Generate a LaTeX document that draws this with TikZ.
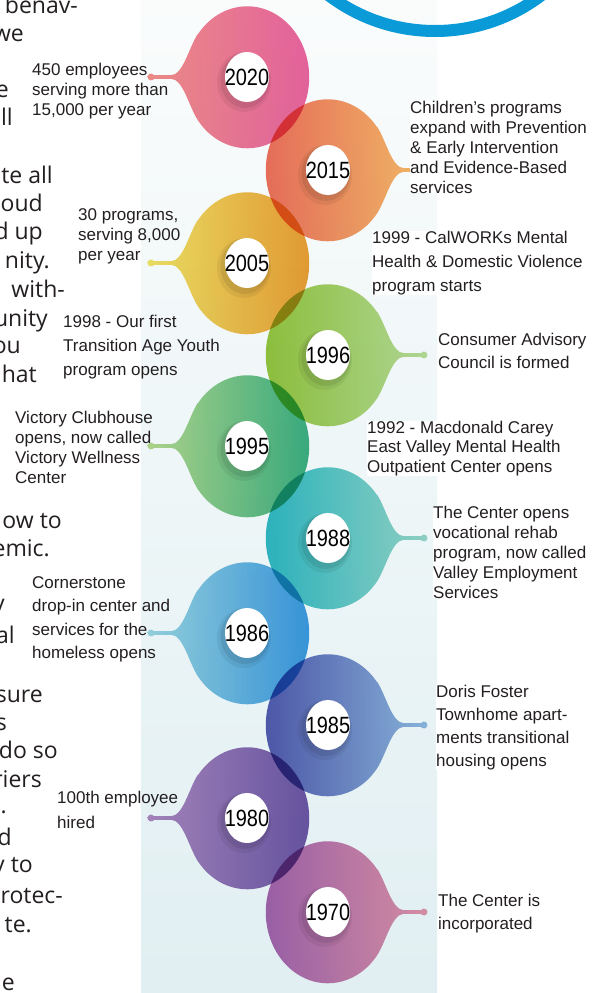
\documentclass[tikz,border=0pt]{standalone}
\usepackage{fontspec}
\setmainfont{Liberation Sans}
\newfontfamily\yearfont{Liberation Sans}[FakeStretch=0.85]
\newfontfamily\bodyfont{Open Sans}

\definecolor{ink}{HTML}{231F20}
\definecolor{ringblue}{HTML}{0A9AD8}
\definecolor{panetop}{HTML}{FAFCFC}
\definecolor{panebot}{HTML}{E1EFF2}
% bubble gradients: a = screen-left end, b = screen-right end
\definecolor{c2020a}{HTML}{F18E88}\definecolor{c2020b}{HTML}{E8619F}
\definecolor{c2015a}{HTML}{ED6C5A}\definecolor{c2015b}{HTML}{F9BC68}
\definecolor{c2005a}{HTML}{F3E264}\definecolor{c2005b}{HTML}{EB9A33}
\definecolor{c1996a}{HTML}{93C33A}\definecolor{c1996b}{HTML}{B9DC98}
\definecolor{c1995a}{HTML}{B8DA8E}\definecolor{c1995b}{HTML}{36AD80}
\definecolor{c1988a}{HTML}{2BB8C2}\definecolor{c1988b}{HTML}{9AD8C9}
\definecolor{c1986a}{HTML}{A0D8E2}\definecolor{c1986b}{HTML}{3797DF}
\definecolor{c1985a}{HTML}{5257AC}\definecolor{c1985b}{HTML}{94BCE2}
\definecolor{c1980a}{HTML}{B58BC2}\definecolor{c1980b}{HTML}{6D55A5}
\definecolor{c1970a}{HTML}{A963AE}\definecolor{c1970b}{HTML}{EE96AA}

% notes are placed by the baseline of their last line
\tikzset{
  note/.style={font=\fontsize{17}{20}\selectfont, text=ink, align=left,
    anchor=base west, inner sep=0pt},
  notebox/.style={note, fill=white},
  big/.style={font=\bodyfont\fontsize{23}{28}\selectfont, text=ink,
    anchor=base east, inner sep=0pt},
  yearlabel/.style={font=\yearfont\fontsize{23.5}{24}\selectfont, text=black,
    inner sep=0pt},
}

% drop-shaped year bubble: #1 cx, #2 cy, #3 tail side (-1 left, 1 right),
% #4 left colour, #5 right colour, #6 year
\newcommand\yeardrop[6]{%
  \begin{scope}[shift={(#1,#2)}]
    \ifnum#3<0
      \shade[left color=#4, right color=#5, blend mode=multiply]
        (-49.3,-43) .. controls (-58,-29.6) and (-64,-1.8) .. (-76,-1.8) -- (-93,-1.8)
        arc[start angle=-31, end angle=-329, radius=3.5] -- (-76,1.8)
        .. controls (-64,1.8) and (-58,29.6) .. (-49.3,43)
        arc[start angle=143, end angle=-143, x radius=62, y radius=71] -- cycle;
    \else
      \shade[left color=#4, right color=#5, blend mode=multiply]
        (49.3,-43) .. controls (58,-29.6) and (64,-1.8) .. (76,-1.8) -- (93,-1.8)
        arc[start angle=211, end angle=509, radius=3.5] -- (76,1.8)
        .. controls (64,1.8) and (58,29.6) .. (49.3,43)
        arc[start angle=37, end angle=323, x radius=62, y radius=71] -- cycle;
    \fi
    \fill[black, opacity=0.06] (-3,5) ellipse[x radius=27, y radius=30];
    \fill[black, opacity=0.08] (-2,3.5) ellipse[x radius=24.5, y radius=27.5];
    \fill[white] (0,0) ellipse[x radius=22, y radius=25];
    \node[yearlabel] (y#6) at (0,0) {#6};
  \end{scope}}

\begin{document}
\begin{tikzpicture}[x=1pt, y=-1pt]
  \useasboundingbox (0,0) rectangle (597,993);
  \clip (0,0) rectangle (597,993);
  \fill[white] (0,0) rectangle (597,993);

  % background pane behind the timeline
  \shade[top color=panetop, bottom color=panebot] (141,0) rectangle (437,993);

  % blue ring at the top
  \draw[ringblue, line width=12pt] (435,-145) circle[radius=176];

  % body text of the neighbouring column
  \node[big] (b1) at (78,13) {benav-};
  \node[big] (b2) at (24,41) {we};
  \node[big] (b3) at (9,97) {e};
  \node[big] (b4) at (13,125) {ll};
  \node[big] (b5) at (53,183) {te all};
  \node[big] (b6) at (43,211) {oud};
  \node[big] (b7) at (43,239) {d up};
  \node[big] (b8) at (50,268) {nity.};
  \node[big] (b9) at (65,297) {with-};
  \node[big] (b10) at (48,326) {unity};
  \node[big] (b11) at (21,353) {ou};
  \node[big] (b12) at (37,382) {hat};
  \node[big] (b13) at (62,528) {ow to};
  \node[big] (b14) at (50,556) {emic.};
  \node[big] (b15) at (5,611) {y};
  \node[big] (b16) at (15,643) {al};
  \node[big] (b17) at (43,702) {sure};
  \node[big] (b18) at (7,730) {s};
  \node[big] (b19) at (58,758) {do so};
  \node[big] (b20) at (42,787) {riers};
  \node[big] (b21) at (7,813) {.};
  \node[big] (b22) at (12,845) {d};
  \node[big] (b23) at (33,872) {y to};
  \node[big] (b24) at (63,903) {rotec-};
  \node[big] (b25) at (32,932) {te.};
  \node[big] (b26) at (15,990) {e};

  % timeline bubbles
  \yeardrop{247}{77}{-1}{c2020a}{c2020b}{2020}
  \yeardrop{328}{170}{1}{c2015a}{c2015b}{2015}
  \yeardrop{247}{263}{-1}{c2005a}{c2005b}{2005}
  \yeardrop{328}{355}{1}{c1996a}{c1996b}{1996}
  \yeardrop{247}{446}{-1}{c1995a}{c1995b}{1995}
  \yeardrop{328}{538}{1}{c1988a}{c1988b}{1988}
  \yeardrop{247}{633}{-1}{c1986a}{c1986b}{1986}
  \yeardrop{328}{725}{1}{c1985a}{c1985b}{1985}
  \yeardrop{247}{818}{-1}{c1980a}{c1980b}{1980}
  \yeardrop{328}{912}{1}{c1970a}{c1970b}{1970}

  % milestone notes
  \node[note] (n2020) at (32,115) {450 employees\\serving more than\\15,000 per year};
  \node[notebox] (n2015) at (410,193) {Children’s programs\\expand with Prevention\\\& Early Intervention\\and Evidence-Based\\services};
  \node[note] (n2005) at (78,260) {30 programs,\\serving 8,000\\per year};
  \node[notebox, font=\fontsize{17}{24}\selectfont] (n1999) at (372,291) {1999 - CalWORKs Mental\\Health \& Domestic Violence\\program starts};
  \node[note, font=\fontsize{17}{24}\selectfont] (n1998) at (63,375) {1998 - Our first\\Transition Age Youth\\program opens};
  \node[notebox, font=\fontsize{17}{23}\selectfont] (n1996) at (438,368) {Consumer Advisory\\Council is formed};
  \node[note] (n1995) at (15,483) {Victory Clubhouse\\opens, now called\\Victory Wellness\\Center};
  \node[notebox, font=\fontsize{17}{19.5}\selectfont] (n1992) at (367,472) {1992 - Macdonald Carey\\East Valley Mental Health\\Outpatient Center opens};
  \node[notebox] (n1988) at (433,598) {The Center opens\\vocational rehab\\program, now called\\Valley Employment\\Services};
  \node[note, font=\fontsize{17}{23.5}\selectfont] (n1986) at (32,658.5) {Cornerstone\\drop-in center and\\services for the\\homeless opens};
  \node[notebox, font=\fontsize{17}{23}\selectfont] (n1985) at (436,766) {Doris Foster\\Townhome apart-\\ments transitional\\housing opens};
  \node[note, font=\fontsize{17}{25}\selectfont] (n1980) at (57,828) {100th employee\\hired};
  \node[notebox, font=\fontsize{17}{23}\selectfont] (n1970) at (438,929) {The Center is\\incorporated};
\end{tikzpicture}
\end{document}
